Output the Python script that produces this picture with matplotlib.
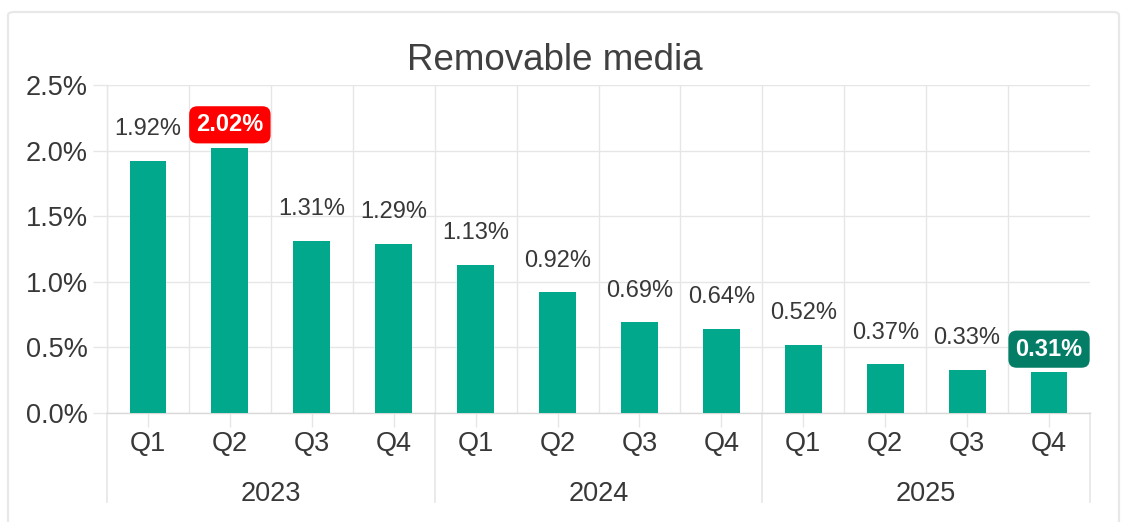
import matplotlib
matplotlib.use("Agg")
import matplotlib.pyplot as plt
from matplotlib.patches import FancyBboxPatch
from matplotlib.ticker import FuncFormatter, MultipleLocator
import numpy as np

plt.rcParams['font.family'] = ['Liberation Sans', 'DejaVu Sans']

# quarterly share of removable media, in percent
years = ["2023", "2024", "2025"]
quarters = ["Q1", "Q2", "Q3", "Q4"]
values = [1.92, 2.02, 1.31, 1.29, 1.13, 0.92, 0.69, 0.64, 0.52, 0.37, 0.33, 0.31]

bar_color = "#02a88b"
text_color = "#383838"
grid_color = "#e6e6e6"

W, H = 1123, 522
fig = plt.figure(figsize=(W / 100, H / 100), dpi=100)

# light frame around the whole chart
frame = FancyBboxPatch((8 / W, -0.05), 1111 / W, (H - 12) / H + 0.05,
                       boxstyle="round,pad=0,rounding_size=0.006",
                       transform=fig.transFigure, facecolor="none",
                       edgecolor="#e8e8e8", linewidth=1.6)
fig.patches.append(frame)

ax = fig.add_axes([107 / W, (H - 413) / H, 983 / W, 328 / H])

n = len(values)
x = np.arange(n)
ax.bar(x, values, width=0.45, color=bar_color, zorder=3)

ax.set_xlim(-0.5, n - 0.5)
ax.set_ylim(0, 2.5)
ax.yaxis.set_major_locator(MultipleLocator(0.5))
ax.yaxis.set_major_formatter(FuncFormatter(lambda v, _: f"{v:.1f}%"))

# quarter labels on the first level
ax.set_xticks(x)
ax.set_xticklabels(quarters * len(years))
ax.set_xticks(np.arange(-0.5, n - 1, 1.0), minor=True)

ax.tick_params(axis="y", length=10, width=1, color=grid_color, pad=4,
               labelsize=19.5, labelcolor=text_color)
ax.tick_params(axis="x", which="major", length=10, width=1, color=grid_color,
               pad=3, labelsize=19.5, labelcolor=text_color)
ax.tick_params(axis="x", which="minor", length=0)

ax.grid(axis="y", color=grid_color, linewidth=1, zorder=0)
ax.grid(axis="x", which="minor", color=grid_color, linewidth=1, zorder=0)
ax.grid(axis="x", which="major", visible=False)

for side in ["top", "right"]:
    ax.spines[side].set_visible(False)
ax.spines["left"].set_color(grid_color)
ax.spines["bottom"].set_color("#d9d9d9")
ax.spines["left"].set_linewidth(1)
ax.spines["bottom"].set_linewidth(1)

# year labels and separators on the second level
trans = ax.get_xaxis_transform()
sep_bottom = -(502 - 413) / 328
for i, year in enumerate(years):
    left = i * 4 - 0.5
    ax.plot([left, left], [0, sep_bottom], transform=trans, color=grid_color,
            linewidth=1.2, clip_on=False)
    ax.text(left + 2, -(494 - 413) / 328, year, transform=trans,
            ha="center", va="center", fontsize=19.5, color=text_color)
ax.plot([n - 0.5, n - 0.5], [0, sep_bottom], transform=trans, color=grid_color,
        linewidth=1.2, clip_on=False)

# value labels, highlighting the highest and lowest quarter
i_max = int(np.argmax(values))
i_min = int(np.argmin(values))
for i, v in enumerate(values):
    label = f"{v:.2f}%"
    if i in (i_max, i_min):
        face = "#ff0000" if i == i_max else "#047d67"
        ax.annotate(label, (i, v), xytext=(0, 12), textcoords="offset points",
                    ha="center", va="baseline", fontsize=17, fontweight="bold",
                    color="white", zorder=5,
                    bbox=dict(boxstyle="round,pad=0.3,rounding_size=0.35",
                              facecolor=face, edgecolor="none"))
    else:
        ax.annotate(label, (i, v), xytext=(0, 18.5), textcoords="offset points",
                    ha="center", va="baseline", fontsize=17, color=text_color,
                    zorder=5)

fig.text(555 / W, 1 - 60 / H, "Removable media", ha="center", va="center",
         fontsize=26.5, color="#404040")

fig.savefig("out.png", dpi=100, facecolor="white")
